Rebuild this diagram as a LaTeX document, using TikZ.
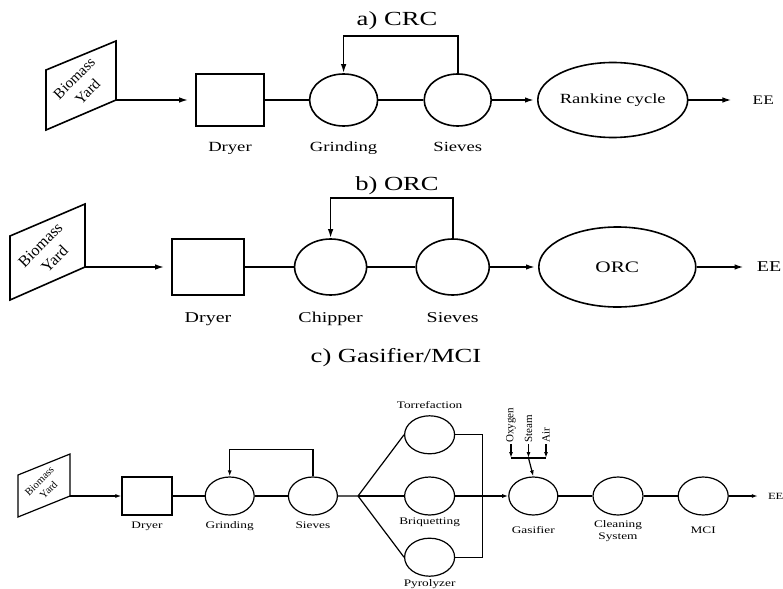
\documentclass[tikz,border=0pt]{standalone}
\usepackage{fontspec}
\setmainfont{Liberation Serif}[FakeStretch=1.33]
\newfontfamily\plainserif{Liberation Serif}
\usepackage{tikz}
\usetikzlibrary{arrows.meta, positioning, shapes.geometric}

\begin{document}
\begin{tikzpicture}[
    x=1pt, y=-1pt,
    every node/.style={inner sep=1pt},
    dims/.style 2 args={minimum width=#1, minimum height=#2},
    wire/.style={line width=1.6pt},
    arrow/.style={wire, -{Latex[length=9pt, width=5.5pt]}},
    wirec/.style={line width=1.2pt},
    arrowc/.style={wirec, -{Latex[length=6pt, width=4pt]}},
    unit/.style={rectangle, draw, wire, inner sep=0pt},
    oval/.style={ellipse, draw, wire, inner sep=0pt},
    unitc/.style={rectangle, draw, wirec, inner sep=0pt, dims={50pt}{38pt}},
    ovalc/.style={ellipse, draw, wirec, inner sep=0pt, dims={49pt}{38pt}},
    ttl/.style={font=\fontsize{20}{24}\selectfont, anchor=base},
    yardtxt/.style 2 args={rotate=45, align=center, font=\plainserif\fontsize{#1}{#2}\selectfont},
    lbla/.style={font=\fontsize{14}{17}\selectfont},
    lblb/.style={font=\fontsize{15}{18}\selectfont},
    lblc/.style={font=\fontsize{10}{12.6}\selectfont},
    gasin/.style={rotate=90, anchor=west, font=\plainserif\fontsize{11}{13}\selectfont}
  ]
  \useasboundingbox (0,0) rectangle (783,588);

  % a) CRC line
  \node[ttl] (titleA) at (397,26) {a) CRC};
  \draw[wire] (46,70) -- (116,41) -- (116,100) -- (46,130) -- cycle;
  \coordinate (yardAout) at (116,100);
  \node[yardtxt={15}{19}] (yardA) at (81,85) {Biomass\\Yard};
  \node[unit, dims={68pt}{52pt}] (dryerA) at (230,100) {};
  \node[oval, dims={68pt}{52pt}, right=44pt of dryerA] (grindA) {};
  \node[oval, dims={67pt}{52pt}, right=45pt of grindA] (sieveA) {};
  \node[oval, dims={147pt}{75pt}, right=45pt of sieveA, lbla] (rankA) {Rankine cycle};
  \node[right=63pt of rankA, font=\fontsize{13}{15}\selectfont] (eeA) {EE};
  \node[lbla, below=25pt of dryerA, anchor=base] (dryerAl) {Dryer};
  \node[lbla, below=25pt of grindA, anchor=base] (grindAl) {Grinding};
  \node[lbla, below=25pt of sieveA, anchor=base] (sieveAl) {Sieves};

  \draw[arrow, shorten >=7pt] (yardAout) -- (dryerA);
  \draw[wire] (dryerA) -- (grindA);
  \draw[wire] (grindA) -- (sieveA);
  \draw[arrow] (sieveA.north) -- ++(0,-37) -| (grindA.north);
  \draw[arrow, shorten >=3pt] (sieveA) -- (rankA);
  \draw[arrow, shorten >=20pt] (rankA) -- (eeA);

  % b) ORC line
  \node[ttl] (titleB) at (397,190) {b) ORC};
  \draw[wire] (10,236) -- (85,204) -- (85,267) -- (10,300) -- cycle;
  \coordinate (yardBout) at (85,267);
  \node[yardtxt={16}{20}] (yardB) at (47.5,252) {Biomass\\Yard};
  \node[unit, dims={72pt}{56pt}] (dryerB) at (208,267) {};
  \node[oval, dims={72pt}{56pt}, right=49pt of dryerB] (chipB) {};
  \node[oval, dims={73pt}{56pt}, right=48pt of chipB] (sieveB) {};
  \node[oval, dims={157pt}{80pt}, right=48pt of sieveB, font=\fontsize{16}{19}\selectfont] (orcB) {ORC};
  \node[right=59pt of orcB, font=\fontsize{15}{18}\selectfont] (eeB) {EE};
  \node[lblb, below=27pt of dryerB, anchor=base] (dryerBl) {Dryer};
  \node[lblb, below=27pt of chipB, anchor=base] (chipBl) {Chipper};
  \node[lblb, below=27pt of sieveB, anchor=base] (sieveBl) {Sieves};

  \draw[arrow, shorten >=7pt] (yardBout) -- (dryerB);
  \draw[wire] (dryerB) -- (chipB);
  \draw[wire] (chipB) -- (sieveB);
  \draw[arrow] (sieveB.north) -- ++(0,-40) -| (chipB.north);
  \draw[arrow, shorten >=3pt] (sieveB) -- (orcB);
  \draw[arrow, shorten >=12pt] (orcB) -- (eeB);

  % c) Gasifier/MCI line
  \node[ttl] (titleC) at (396,362) {c) Gasifier/MCI};
  \draw[wirec] (18,475) -- (70,454) -- (70,496) -- (18,517) -- cycle;
  \coordinate (yardCout) at (70,496);
  \node[yardtxt={10.5}{13}] (yardC) at (44,485.5) {Biomass\\Yard};
  \node[unitc] (dryerC) at (147,496) {};
  \node[ovalc, right=32pt of dryerC] (grindC) {};
  \node[ovalc, right=33pt of grindC] (sieveC) {};
  \node[ovalc, dims={50pt}{38pt}, right=66pt of sieveC] (briqC) {};
  \node[ovalc, dims={50pt}{38pt}, above=22pt of briqC] (torrC) {};
  \node[ovalc, dims={50pt}{38pt}, below=22pt of briqC] (pyroC) {};
  \node[ovalc, right=53pt of briqC] (gasC) {};
  \node[ovalc, dims={50pt}{38pt}, right=34pt of gasC] (cleanC) {};
  \node[ovalc, dims={50pt}{38pt}, right=34pt of cleanC] (mciC) {};
  \node[lblc, right=38pt of mciC, font=\fontsize{9.5}{12}\selectfont] (eeC) {EE};

  \node[lblc, below=13pt of dryerC, anchor=base] (dryerCl) {Dryer};
  \node[lblc, below=13pt of grindC, anchor=base] (grindCl) {Grinding};
  \node[lblc, below=13pt of sieveC, anchor=base] (sieveCl) {Sieves};
  \node[lblc, above=7pt of torrC, anchor=base] (torrCl) {Torrefaction};
  \node[lblc, below=9pt of briqC, anchor=base] (briqCl) {Briquetting};
  \node[lblc, below=10pt of pyroC, anchor=base] (pyroCl) {Pyrolyzer};
  \node[lblc, below=18pt of gasC, anchor=base] (gasCl) {Gasifier};
  \node[lblc, below=3.5pt of cleanC, align=center] (cleanCl) {Cleaning\\System};
  \node[lblc, below=18pt of mciC, anchor=base] (mciCl) {MCI};

  % feed gases into the gasifier
  \node[gasin] (oxyC) at (511,444) {Oxygen};
  \node[gasin] (steamC) at (528.5,444) {Steam};
  \node[gasin] (airC) at (546,444) {Air};
  \coordinate (barL) at (511,458);
  \coordinate (barM) at (528.5,458);
  \coordinate (barR) at (546,458);

  \draw[arrowc] (yardCout) -- (dryerC);
  \draw[wirec] (dryerC) -- (grindC);
  \draw[wirec] (grindC) -- (sieveC);
  \draw[arrowc] (sieveC.north) -- ++(0,-27) -| (grindC.north);
  \coordinate (fork) at ([xshift=20pt]sieveC.east);
  \coordinate (join) at ([xshift=27pt]briqC.east);
  \draw[wirec] (sieveC) -- (fork) -- (torrC.west);
  \draw[wirec] (fork) -- (briqC);
  \draw[wirec] (fork) -- (pyroC.west);
  \draw[wirec] (torrC.east) -| (join);
  \draw[wirec] (pyroC.east) -| (join);
  \draw[arrowc] (briqC) -- (gasC);
  \draw[arrowc] (oxyC.west) -- (barL);
  \draw[arrowc] (steamC.west) -- (barM);
  \draw[arrowc] (airC.west) -- (barR);
  \draw[wirec] (barL) -- (barR);
  \draw[arrowc] (barM) -- (gasC.north);
  \draw[wirec] (gasC) -- (cleanC);
  \draw[wirec] (cleanC) -- (mciC);
  \draw[arrowc, shorten >=9pt] (mciC) -- (eeC);
\end{tikzpicture}
\end{document}
